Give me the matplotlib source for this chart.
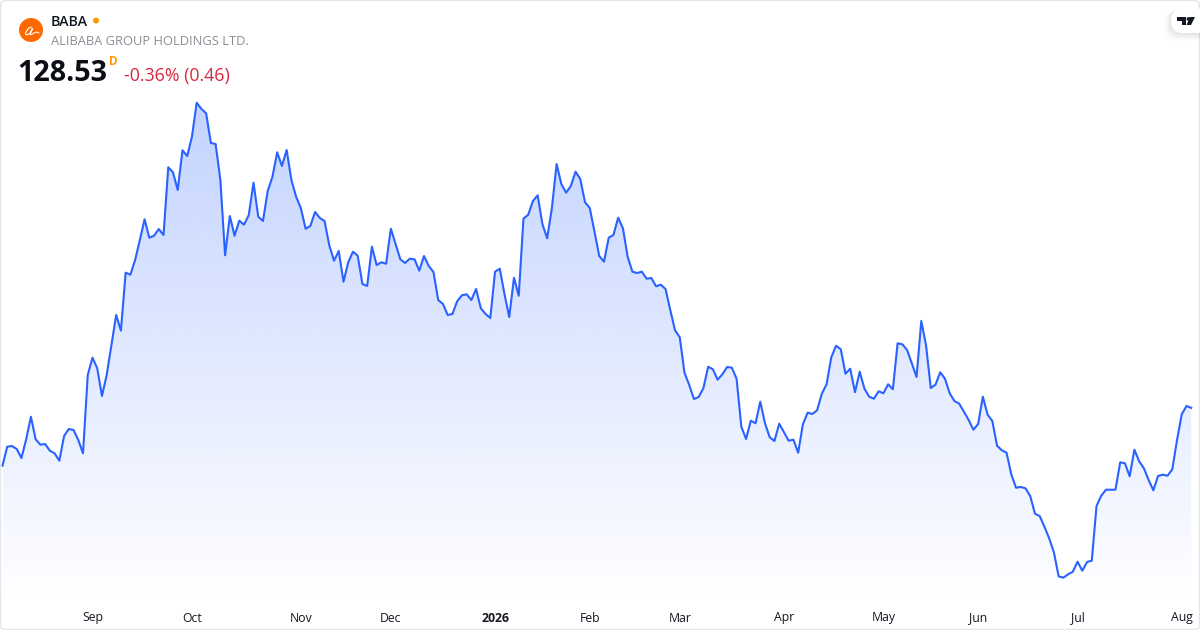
import numpy as np
import matplotlib
matplotlib.use('Agg')
import matplotlib.pyplot as plt
from matplotlib.patches import Circle, FancyBboxPatch, Polygon
from matplotlib.transforms import blended_transform_factory

plt.rcParams['font.family'] = ['Open Sans', 'DejaVu Sans']

# daily closes
prices = [
    116.96, 120.76, 120.90, 120.30, 118.50, 122.24, 126.76, 122.24, 121.16, 121.30,
    119.96, 119.44, 117.96, 122.90, 124.30, 124.10, 122.10, 119.44, 135.10, 138.56,
    136.44, 130.90, 135.10, 141.10, 147.10, 143.96, 155.56, 155.16, 158.10, 162.10,
    166.24, 162.56, 162.96, 164.30, 163.10, 176.64, 175.64, 172.10, 180.04, 178.90,
    182.76, 189.56, 188.30, 187.44, 181.50, 181.30, 174.10, 159.04, 166.90, 162.96,
    165.96, 165.16, 167.10, 173.56, 166.76, 165.90, 171.90, 174.76, 179.64, 176.90,
    180.10, 174.10, 170.76, 168.44, 164.36, 164.90, 167.70, 166.50, 165.90, 161.04,
    157.96, 159.90, 153.76, 157.64, 159.76, 158.96, 153.30, 152.90, 160.76, 157.10,
    157.64, 157.36, 164.36, 161.30, 158.24, 157.50, 158.36, 158.24, 155.96, 158.90,
    156.90, 155.70, 150.10, 149.30, 147.10, 147.30, 149.84, 151.04, 151.24, 150.10,
    152.30, 148.44, 147.30, 146.50, 155.76, 156.36, 151.24, 146.70, 154.56, 150.96,
    166.36, 167.16, 169.90, 171.04, 165.30, 162.44, 168.44, 177.30, 173.30, 171.56,
    172.90, 175.76, 174.30, 169.64, 168.50, 163.76, 158.90, 157.76, 162.56, 163.10,
    166.56, 164.44, 158.76, 155.76, 155.50, 155.76, 154.36, 154.50, 152.84, 153.16,
    152.30, 148.10, 144.04, 142.64, 135.56, 133.10, 130.30, 130.70, 132.50, 136.76,
    136.24, 134.16, 135.24, 136.70, 136.56, 134.36, 124.76, 122.30, 125.96, 125.44,
    129.76, 125.44, 122.64, 121.90, 125.36, 123.64, 121.96, 122.16, 119.56, 125.24,
    127.56, 127.30, 128.04, 131.36, 133.24, 138.64, 140.96, 140.24, 135.36, 136.36,
    131.64, 135.76, 132.36, 130.76, 130.36, 131.84, 131.44, 133.24, 132.24, 141.44,
    141.24, 140.10, 137.44, 134.70, 145.90, 141.10, 132.50, 133.16, 135.64, 134.36,
    131.44, 129.90, 129.36, 127.76, 126.10, 124.16, 125.30, 130.76, 127.16, 125.90,
    120.96, 120.04, 119.56, 115.24, 112.56, 112.70, 112.44, 110.90, 107.36, 106.90,
    104.76, 102.44, 99.64, 94.84, 94.56, 95.24, 95.76, 97.76, 95.96, 97.70,
    97.96, 108.90, 110.96, 112.16, 112.16, 112.16, 117.64, 117.44, 114.84, 120.16,
    117.84, 116.44, 114.10, 112.04, 114.90, 115.16, 114.96, 116.24, 122.10, 127.24,
    128.90, 128.53,
]

# tick label, index of the trading day it sits on
month_labels = ['Sep', 'Oct', 'Nov', 'Dec', '2026', 'Feb', 'Mar', 'Apr', 'May', 'Jun', 'Jul', 'Aug']
month_index = [19, 40, 63, 82, 104, 124, 143, 165, 186, 206, 227, 249]

W, H = 1200, 630
LINE = '#2962FF'
STEP = 4.736  # px per bar
X0 = 2.5

fig = plt.figure(figsize=(W / 100, H / 100), dpi=100, facecolor='white')

# price panel fills the whole figure
ax = fig.add_axes([0, 0, 1, 1])
ax.set_xlim(-X0 / STEP, (W - X0) / STEP)
ax.set_ylim(84.1, 210.1)
ax.axis('off')

xs = np.arange(len(prices))
ys = np.array(prices)
base = 89.0
top = ys.max()

# gradient under the line
grad = np.zeros((256, 2, 4))
grad[..., 0] = 41 / 255
grad[..., 1] = 98 / 255
grad[..., 2] = 1.0
grad[..., 3] = np.linspace(0.28, 0.0, 256)[:, None]
img = ax.imshow(grad, extent=(xs[0], xs[-1], base, top), origin='upper',
                aspect='auto', interpolation='bilinear', zorder=1)
poly = Polygon(np.column_stack([np.r_[xs, xs[-1], xs[0]], np.r_[ys, base, base]]),
               closed=True, transform=ax.transData, fc='none', ec='none')
ax.add_patch(poly)
img.set_clip_path(poly)
ax.set_xlim(-X0 / STEP, (W - X0) / STEP)
ax.set_ylim(84.1, 210.1)

ax.plot(xs, ys, color=LINE, lw=1.5, solid_joinstyle='round', zorder=2)

trans = blended_transform_factory(ax.transData, ax.transAxes)
for lab, i in zip(month_labels, month_index):
    ax.text(i, 1 - 618 / H, lab, transform=trans, ha='center', va='center',
            fontsize=8.8, color='#131722', fontweight='bold' if lab == '2026' else 'normal')

# header and frame, in pixel coordinates
ui = fig.add_axes([0, 0, 1, 1], facecolor='none')
ui.set_xlim(0, W)
ui.set_ylim(H, 0)
ui.axis('off')

ui.add_patch(FancyBboxPatch((0.5, 0.5), W - 1, H - 1, boxstyle='round,pad=0,rounding_size=5',
                            fc='none', ec='#e4e6eb', lw=1.0))

ui.add_patch(Circle((31, 30), 12, fc='#FF6A00', ec='none'))
ui.plot([31.5, 29, 26.5, 25.5, 27, 30, 32.5, 31, 30, 31.5, 34, 36.5, 39],
        [27, 28, 31, 34, 35, 33.5, 28.5, 32, 34, 34.5, 33, 32, 33],
        color='white', lw=0.8, solid_capstyle='round')

ui.text(51, 21.5, 'BABA', fontsize=10.3, fontweight='semibold', color='#131722', va='center')
ui.add_patch(Circle((96, 20.5), 3, fc='#FF9800', ec='none'))
ui.text(51, 41.5, 'ALIBABA GROUP HOLDINGS LTD.', fontsize=9.3, color='#8a8d96', va='center')
ui.text(17.5, 73.5, '128.53', fontsize=20.7, fontweight='bold', color='#0b0e14', va='center')
ui.text(109, 61.5, 'D', fontsize=8.4, fontweight='bold', color='#FF9800', va='center')
ui.text(124, 75.5, '-0.36% (0.46)', fontsize=12.8, color='#D8283F', va='center')

# TradingView badge
for off, a in [(6, 0.01), (5, 0.012), (4, 0.015), (3, 0.018), (2, 0.02), (1, 0.025)]:
    ui.add_patch(FancyBboxPatch((1171 - off, 9 + off * 0.3), 40 + off, 24 + off,
                                boxstyle='round,pad=0,rounding_size=11', fc='black', ec='none', alpha=a))
ui.add_patch(FancyBboxPatch((1171, 9), 40, 24, boxstyle='round,pad=0,rounding_size=11',
                            fc='white', ec='none'))
ui.add_patch(Polygon([(1177, 17), (1186, 17), (1186, 25), (1181.5, 25), (1181.5, 20.5), (1177, 20.5)],
                     fc='#131722', ec='none'))
ui.add_patch(Circle((1188.5, 19), 1.9, fc='#131722', ec='none'))
ui.add_patch(Polygon([(1190, 17), (1195, 17), (1191, 25), (1186.5, 25)], fc='#131722', ec='none'))
ui.set_xlim(0, W)
ui.set_ylim(H, 0)

fig.savefig('out.png', dpi=100)
